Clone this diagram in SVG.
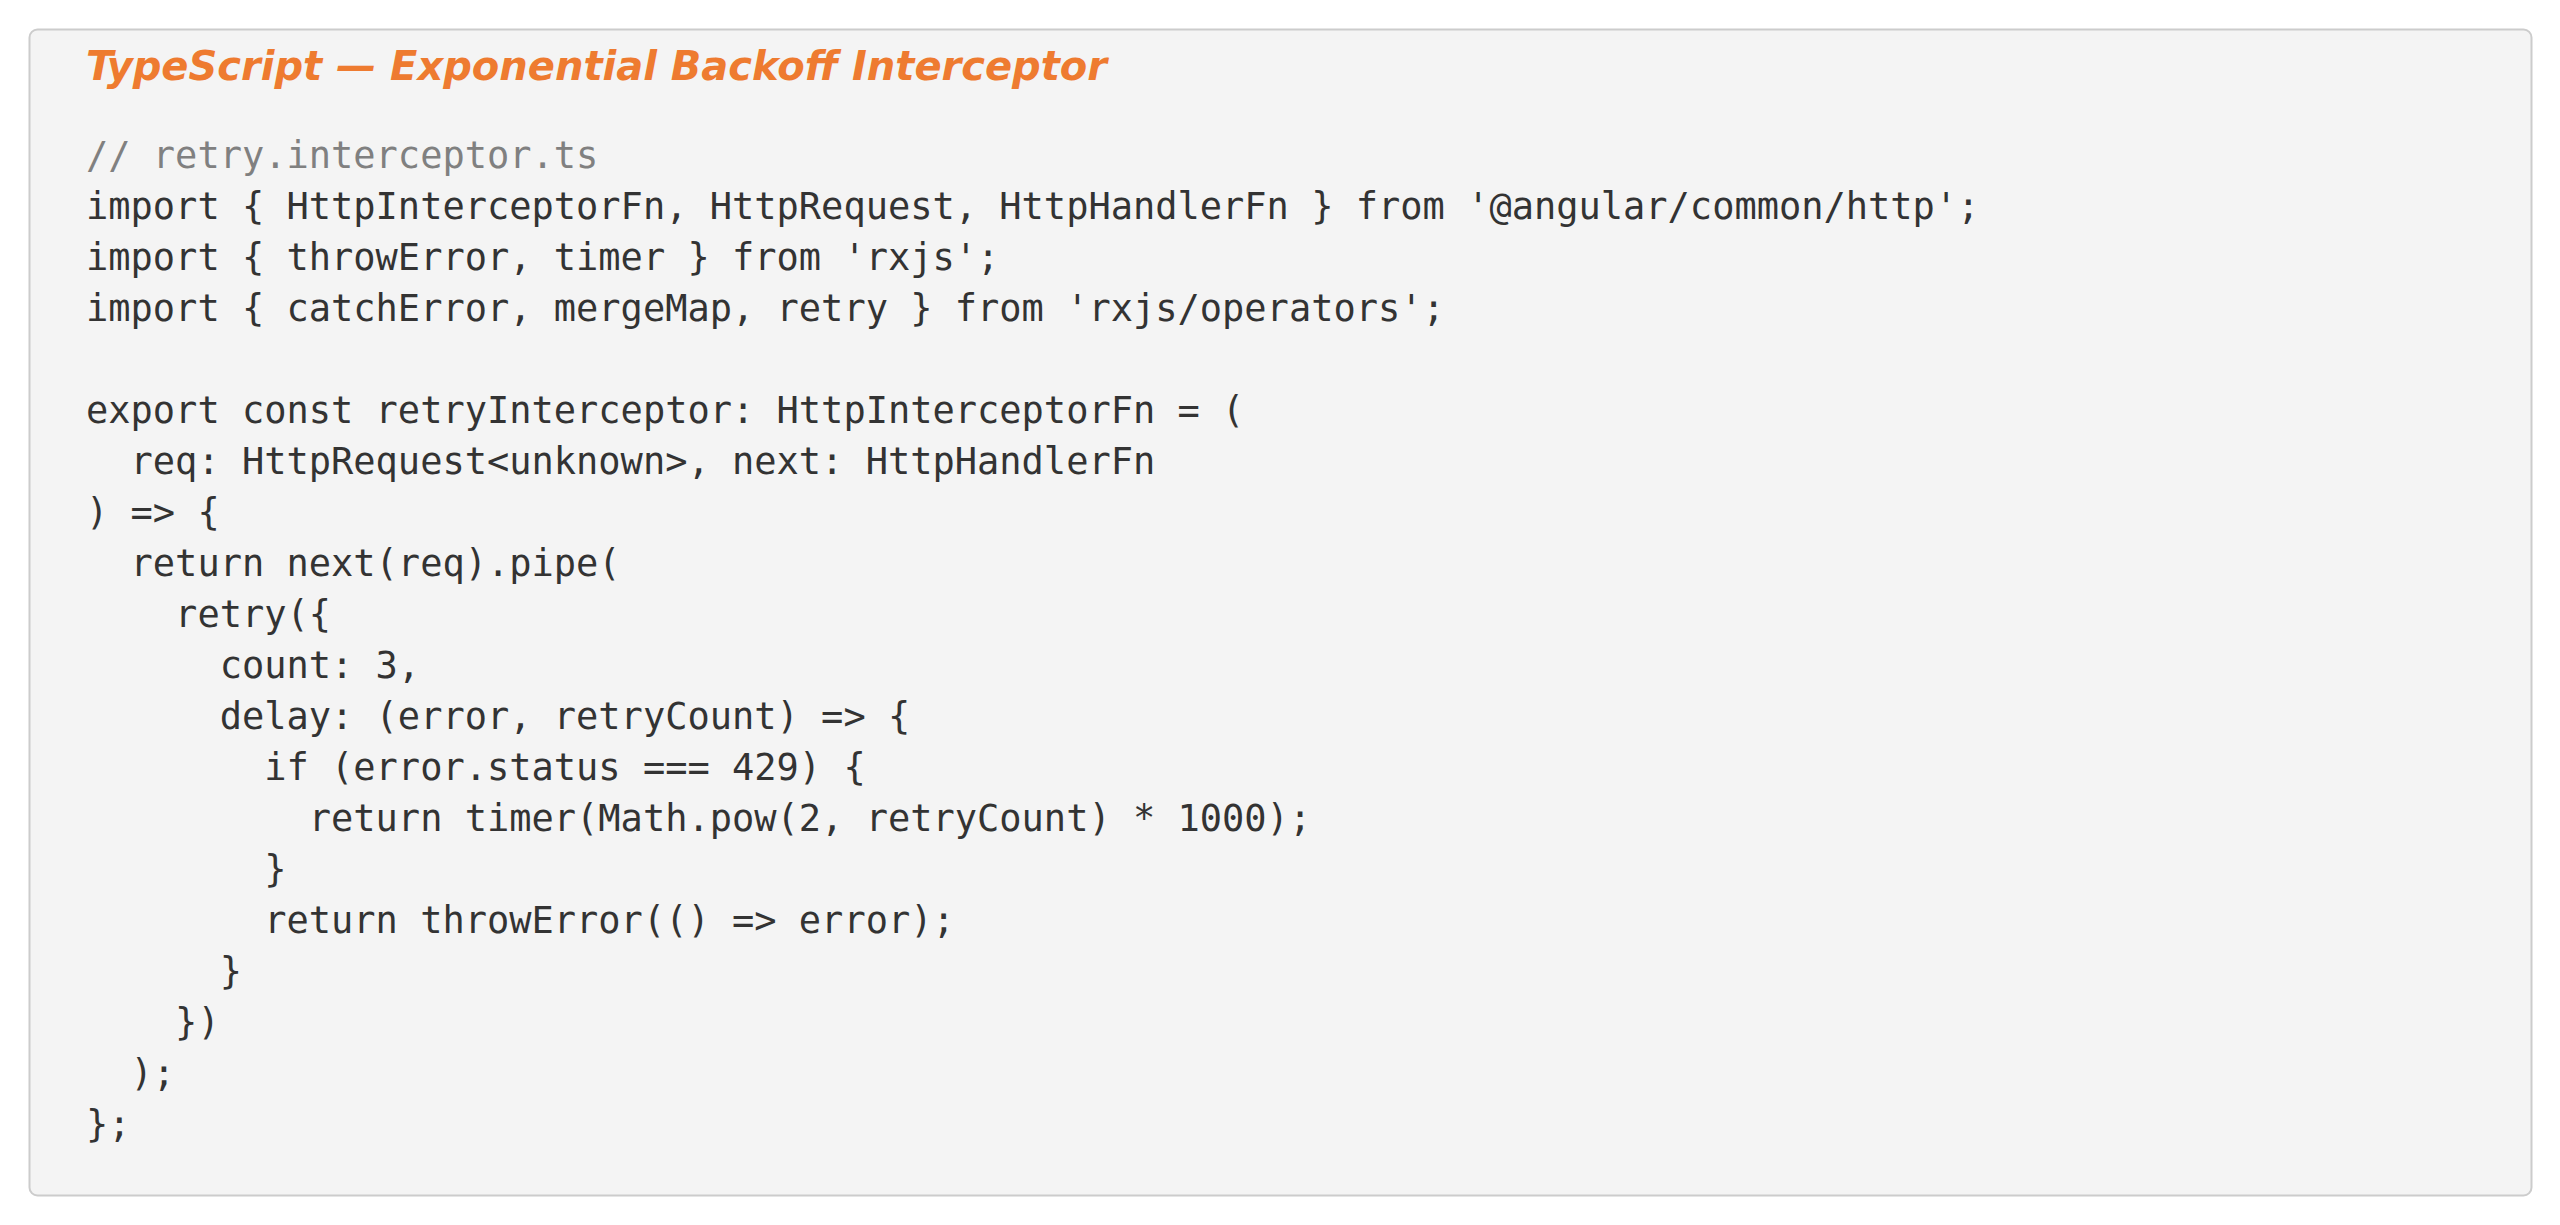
<svg xmlns="http://www.w3.org/2000/svg" width="2560" height="1225" viewBox="0 0 2560 1225">
<style>
.code{font-family:"DejaVu Sans Mono",monospace;font-size:37px;fill:#333333;white-space:pre}
.cm{fill:#808080}
.title{font-family:"DejaVu Sans",sans-serif;font-size:40px;font-weight:bold;font-style:italic;fill:#EE7B30}
</style>
<rect width="2560" height="1225" fill="#ffffff"/>
<g id="panel">
<rect x="29.5" y="29.5" width="2502" height="1166" rx="8" fill="#f4f4f4" stroke="#cccccc" stroke-width="2"/>
<text class="title" x="86" y="80">TypeScript — Exponential Backoff Interceptor</text>
<text class="code" xml:space="preserve"><tspan class="cm" x="86" y="168">// retry.interceptor.ts</tspan><tspan x="86" y="219">import { HttpInterceptorFn, HttpRequest, HttpHandlerFn } from '@angular/common/http';</tspan><tspan x="86" y="270">import { throwError, timer } from 'rxjs';</tspan><tspan x="86" y="321">import { catchError, mergeMap, retry } from 'rxjs/operators';</tspan><tspan x="86" y="423">export const retryInterceptor: HttpInterceptorFn = (</tspan><tspan x="86" y="474">  req: HttpRequest&lt;unknown&gt;, next: HttpHandlerFn</tspan><tspan x="86" y="525">) =&gt; {</tspan><tspan x="86" y="576">  return next(req).pipe(</tspan><tspan x="86" y="627">    retry({</tspan><tspan x="86" y="678">      count: 3,</tspan><tspan x="86" y="729">      delay: (error, retryCount) =&gt; {</tspan><tspan x="86" y="780">        if (error.status === 429) {</tspan><tspan x="86" y="831">          return timer(Math.pow(2, retryCount) * 1000);</tspan><tspan x="86" y="882">        }</tspan><tspan x="86" y="933">        return throwError(() =&gt; error);</tspan><tspan x="86" y="984">      }</tspan><tspan x="86" y="1035">    })</tspan><tspan x="86" y="1086">  );</tspan><tspan x="86" y="1137">};</tspan></text>
</g>
</svg>
